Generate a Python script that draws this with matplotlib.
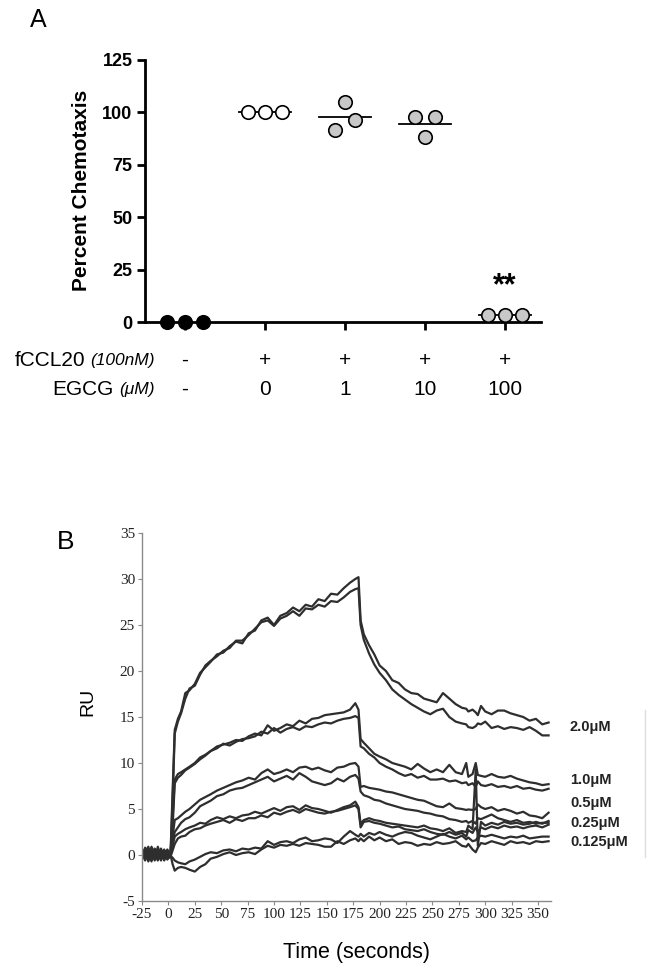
import numpy as np
import matplotlib
matplotlib.use("Agg")
import matplotlib.pyplot as plt
from matplotlib.lines import Line2D

# ---------------- panel A data ----------------
GROUPS = ["ctrl", "0", "1", "10", "100"]
FCCL20_ROW = ["-", "+", "+", "+", "+"]
EGCG_ROW = ["-", "0", "1", "10", "100"]
CHEMO_VALUES = [
    [0.0, 0.0, 0.0],
    [100.0, 100.0, 100.0],
    [91.7, 105.2, 96.5],
    [97.8, 88.3, 97.8],
    [3.2, 3.2, 3.2],
]
CHEMO_OFFSETS = [
    [-0.225, 0.0, 0.225],
    [-0.21, 0.0, 0.21],
    [-0.125, 0.0, 0.125],
    [-0.125, 0.0, 0.125],
    [-0.21, 0.0, 0.21],
]
FILL = ["black", "white", "#c8c8c8", "#c8c8c8", "#c8c8c8"]

# ---------------- panel B data ----------------
T_BASE = [-25, -22, -19, -16, -13, -10, -7, -4, -1, 2]
T_ASSOC = [4, 6, 9, 12, 16, 20, 25, 30, 35, 40, 46, 52, 58, 64, 70, 76, 82, 88,
           94, 100, 106, 112, 118, 124, 130, 136, 142, 148, 154, 160, 166, 172,
           177, 180]
T_DISS = [182, 185, 190, 195, 200, 206, 212, 218, 224, 230, 236, 242, 248, 254,
          260, 266, 272, 278, 282, 284, 288, 291, 293, 296, 300, 306, 312, 318,
          324, 330, 336, 342, 348, 354, 360]

CONC_LABELS = ["2.0\u03bcM", "1.0\u03bcM", "0.5\u03bcM", "0.25\u03bcM", "0.125\u03bcM"]

BASE = [
    [0.0, 0.8, -0.4, 0.6, -0.6, 0.9, -0.3, 0.4, -0.2, 0.1],
    [-0.5, 0.3, 0.9, -0.5, 0.5, -0.2, 0.7, -0.6, 0.3, -0.1],
    [0.3, -0.6, 0.5, 0.2, -0.4, 0.6, -0.5, 0.2, 0.5, 0.0],
    [-0.3, 0.5, -0.2, 0.9, 0.1, -0.6, 0.4, -0.3, 0.0, 0.2],
    [0.6, -0.2, 0.2, -0.7, 0.7, 0.0, -0.4, 0.6, -0.4, -0.2],
    [-0.1, 0.4, -0.7, 0.3, -0.2, 0.5, 0.2, -0.5, 0.4, 0.0],
    [0.2, -0.4, 0.4, -0.3, 0.6, -0.5, 0.6, 0.1, -0.3, 0.1],
    [-0.4, 0.6, 0.0, 0.5, -0.5, 0.3, -0.6, 0.5, 0.2, -0.2],
    [0.4, -0.1, -0.5, 0.1, 0.4, -0.3, 0.3, -0.2, 0.6, -0.1],
    [-0.2, 0.2, 0.6, -0.4, -0.1, 0.7, -0.2, 0.3, -0.5, 0.0],
]

ASSOC = [
    # 2.0 uM
    [7, 13.6, 14.8, 15.6, 17.6, 17.9, 18.6, 19.8, 20.4, 21.0, 21.8, 22.0, 22.7,
     23.2, 23.0, 24.1, 24.4, 25.5, 25.8, 25.0, 26.0, 26.3, 26.9, 26.5, 27.2,
     27.0, 27.8, 27.6, 28.4, 28.3, 29.0, 29.6, 30.0, 30.2],
    [6, 13.2, 14.5, 15.4, 17.0, 18.1, 18.4, 19.6, 20.6, 21.1, 21.6, 22.2, 22.5,
     23.3, 23.3, 23.9, 24.6, 25.3, 25.5, 24.9, 25.7, 26.0, 26.5, 26.0, 26.8,
     26.7, 27.2, 27.0, 27.6, 27.5, 28.0, 28.6, 28.9, 29.0],
    # 1.0 uM
    [4, 8.2, 8.8, 9.0, 9.3, 9.6, 10.0, 10.6, 10.9, 11.3, 11.8, 12.0, 12.2, 12.5,
     12.4, 12.9, 13.2, 13.0, 14.1, 13.5, 13.8, 14.2, 14.0, 14.6, 14.3, 14.8,
     14.9, 15.2, 15.3, 15.4, 15.5, 15.8, 16.5, 15.8],
    [3, 7.8, 8.4, 8.7, 9.2, 9.5, 9.9, 10.4, 10.8, 11.3, 11.6, 12.1, 11.9, 12.3,
     12.6, 12.7, 12.9, 13.4, 13.2, 13.8, 13.3, 13.7, 13.9, 13.6, 14.0, 13.9,
     14.2, 14.4, 14.3, 14.6, 14.8, 14.9, 15.1, 14.9],
    # 0.5 uM
    [2, 3.8, 4.0, 4.3, 4.7, 5.0, 5.5, 6.0, 6.3, 6.6, 7.0, 7.3, 7.6, 7.9, 8.1,
     8.4, 8.2, 8.9, 9.3, 8.8, 9.0, 9.3, 9.0, 9.5, 9.6, 9.3, 9.5, 9.2, 9.0, 9.5,
     9.6, 9.9, 10.0, 9.6],
    [1.5, 2.5, 3.0, 3.5, 3.9, 4.1, 4.6, 5.3, 5.6, 5.9, 6.4, 6.6, 7.0, 7.2, 7.3,
     7.6, 7.9, 8.2, 8.5, 8.0, 8.3, 8.6, 8.2, 8.9, 8.5, 8.0, 7.8, 7.6, 7.8, 8.3,
     8.0, 8.5, 8.7, 8.3],
    # 0.25 uM
    [1.0, 2.0, 2.3, 2.5, 2.8, 3.0, 3.2, 3.5, 3.4, 3.8, 4.1, 3.9, 4.2, 4.0, 4.3,
     4.4, 4.7, 4.5, 4.8, 5.1, 4.8, 5.2, 5.3, 4.9, 5.4, 5.1, 5.0, 4.8, 4.6, 4.9,
     5.2, 5.4, 5.8, 5.2],
    [0.5, 1.2, 1.8, 2.0, 2.1, 2.5, 2.8, 2.9, 3.2, 3.4, 3.6, 3.8, 3.5, 3.9, 3.7,
     4.0, 4.0, 4.3, 4.1, 4.6, 4.4, 4.7, 4.9, 4.6, 5.0, 4.8, 4.6, 4.5, 4.7, 4.8,
     5.0, 5.2, 5.4, 5.0],
    # 0.125 uM
    [-0.3, -0.6, -0.8, -0.9, -1.0, -0.7, -0.5, -0.2, 0.1, 0.3, 0.2, 0.5, 0.6,
     0.4, 0.7, 0.6, 0.8, 0.7, 1.5, 1.1, 1.4, 1.5, 1.3, 1.7, 1.9, 1.5, 1.6, 1.8,
     1.7, 1.3, 2.0, 2.6, 2.2, 2.0],
    [-1.0, -1.7, -1.4, -1.3, -1.4, -1.6, -1.8, -1.3, -1.0, -0.4, -0.2, 0.1, 0.3,
     0.0, 0.2, 0.3, 0.1, 0.6, 1.0, 0.8, 1.1, 1.0, 1.2, 1.0, 1.3, 1.2, 1.1, 0.9,
     0.9, 1.5, 1.2, 1.6, 1.8, 1.5],
]

DISS = [
    [25.5, 24.0, 22.8, 21.8, 20.6, 20.0, 19.0, 18.7, 18.0, 17.6, 17.5, 17.0,
     16.8, 16.6, 17.6, 17.0, 16.4, 16.0, 15.9, 15.6, 15.8, 15.5, 15.2, 16.2,
     15.6, 15.3, 15.7, 15.7, 15.4, 15.2, 15.0, 14.6, 14.8, 14.2, 14.4],
    [25.0, 23.4, 21.9, 20.7, 19.8, 19.0, 18.0, 17.4, 16.9, 16.4, 16.0, 15.6,
     15.3, 15.7, 15.9, 15.0, 14.5, 14.3, 14.2, 13.9, 13.8, 14.0, 14.3, 14.2,
     14.5, 13.8, 14.0, 13.7, 13.9, 13.8, 13.6, 13.9, 13.5, 13.0, 13.0],
    [12.6, 12.2, 11.6, 11.0, 10.7, 10.4, 10.0, 9.8, 9.6, 9.3, 9.9, 9.4, 9.0,
     9.3, 9.0, 9.8, 9.0, 8.8, 10.0, 8.5, 8.8, 10.0, 8.7, 8.6, 8.5, 8.8, 8.5,
     8.4, 8.6, 8.3, 8.1, 7.9, 7.8, 7.6, 7.7],
    [11.8, 11.6, 11.0, 10.6, 10.0, 9.6, 9.3, 8.9, 8.6, 8.8, 8.4, 8.6, 8.2, 8.2,
     8.3, 8.0, 8.1, 7.8, 7.9, 7.6, 7.8, 7.4, 8.0, 7.6, 7.5, 7.7, 7.4, 7.5, 7.3,
     7.5, 7.2, 7.3, 7.1, 7.0, 7.2],
    [7.4, 7.5, 7.3, 7.2, 7.1, 6.9, 6.8, 6.6, 6.4, 6.2, 6.0, 5.9, 5.6, 5.3, 5.2,
     5.6, 5.1, 5.0, 4.9, 4.95, 4.9, 5.0, 5.5, 5.2, 5.0, 5.2, 4.8, 5.0, 4.8, 4.5,
     4.7, 4.3, 4.2, 4.0, 4.6],
    [6.9, 6.5, 6.3, 6.0, 5.9, 5.6, 5.4, 5.2, 5.0, 4.9, 4.8, 4.6, 4.5, 4.3, 4.2,
     3.9, 3.8, 3.6, 3.7, 3.5, 3.7, 3.4, 4.0, 3.9, 4.1, 4.4, 4.0, 3.8, 3.6, 3.8,
     3.5, 3.6, 3.4, 3.5, 3.5],
    [3.4, 3.8, 4.0, 3.8, 3.7, 3.5, 3.4, 3.3, 3.2, 3.1, 3.0, 3.2, 2.9, 2.8, 2.6,
     2.9, 2.4, 2.6, 2.5, 3.2, 2.8, 9.3, 1.0, 3.6, 3.2, 3.5, 3.3, 3.6, 3.4, 3.5,
     3.3, 3.4, 3.6, 3.4, 3.7],
    [3.0, 3.6, 3.7, 3.5, 3.4, 3.2, 3.0, 3.1, 2.8, 2.7, 2.6, 2.8, 2.5, 2.3, 2.2,
     2.5, 2.2, 2.4, 2.0, 2.7, 2.4, 3.0, 2.5, 3.0, 2.8, 3.1, 2.9, 3.2, 3.0, 3.1,
     2.9, 3.1, 3.2, 3.0, 3.3],
    [2.3, 2.0, 2.4, 2.2, 2.5, 2.2, 2.0, 2.3, 2.5, 2.4, 2.1, 1.9, 1.7, 2.0, 2.3,
     2.0, 1.8, 2.1, 1.7, 1.9, 1.5, 1.6, 1.9, 2.1, 2.0, 2.2, 2.0, 1.8, 2.0, 1.9,
     2.1, 1.8, 1.9, 2.0, 2.0],
    [1.8, 1.5, 2.0, 1.6, 1.9, 1.5, 1.7, 1.2, 1.4, 1.3, 1.0, 1.2, 1.1, 1.4, 1.2,
     1.3, 1.5, 1.0, 0.9, 1.2, 0.6, 0.3, 0.8, 1.3, 1.2, 1.5, 1.3, 1.1, 1.5, 1.3,
     1.4, 1.2, 1.5, 1.4, 1.5],
]

LABEL_Y_PX = [727, 780, 803, 823, 842]

W, H = 654, 971
plt.rcParams["font.family"] = ["Liberation Sans", "DejaVu Sans"]
plt.rcParams["axes.unicode_minus"] = False
fig = plt.figure(figsize=(W / 100, H / 100), dpi=100)


def fx(px):
    return px / W


def fy(px):
    return 1 - px / H


# ======================= Panel A =======================
axA = fig.add_axes([fx(145), fy(322), 396 / W, 262 / H])
for i, vals in enumerate(CHEMO_VALUES):
    xs = [i + o for o in CHEMO_OFFSETS[i]]
    axA.plot(xs, vals, "o", ms=9.7, mfc=FILL[i], mec="black", mew=1.2,
             clip_on=False, zorder=4)
    if i > 0:
        m = np.mean(vals)
        axA.plot([i - 0.33, i + 0.33], [m, m], color="black", lw=1.3, zorder=3)

axA.set_xlim(-0.5, 4.45)
axA.set_ylim(0, 125)
axA.set_yticks([0, 25, 50, 75, 100, 125])
axA.set_xticks(range(len(GROUPS)))
axA.set_xticklabels([])
for s in ["top", "right"]:
    axA.spines[s].set_visible(False)
for s in ["left", "bottom"]:
    axA.spines[s].set_linewidth(2)
axA.tick_params(axis="y", direction="out", length=6, width=2, labelsize=13, pad=3)
axA.tick_params(axis="x", direction="out", length=6, width=2)
for lb in axA.get_yticklabels():
    lb.set_fontweight("bold")

axA.text(4, 17.0, "**", ha="center", va="center", fontsize=22, fontweight="bold")

fig.text(fx(82), fy(190), "Percent Chemotaxis", rotation=90, ha="center",
         va="center", fontsize=15, fontweight="bold")
fig.text(fx(38), fy(20), "A", ha="center", va="center", fontsize=18)

# row labels under the axis
trans = matplotlib.transforms.blended_transform_factory(axA.transData, fig.transFigure)
for row_y, row_vals in [(360, FCCL20_ROW), (389, EGCG_ROW)]:
    for i, v in enumerate(row_vals):
        axA.text(i, fy(row_y), v, transform=trans, ha="center", va="center",
                 fontsize=15, clip_on=False)

for row_y, word, unit in [(360, "fCCL20", "(100nM)"), (389, "EGCG", "(\u03bcM)")]:
    it = fig.text(fx(155), fy(row_y), unit, ha="right", va="center",
                  fontsize=12.5, style="italic")
    axA.annotate(word, xy=(0, 0.5), xycoords=it, xytext=(-4, 0),
                 textcoords="offset points", ha="right", va="center",
                 fontsize=15, annotation_clip=False)

# ======================= Panel B =======================
axB = fig.add_axes([fx(142), fy(901), 408.7 / W, 368 / H])
for k in range(len(ASSOC)):
    assert len(ASSOC[k]) == len(T_ASSOC) and len(DISS[k]) == len(T_DISS)
    t = T_BASE + T_ASSOC + T_DISS
    v = BASE[k] + ASSOC[k] + DISS[k]
    axB.plot(t, v, color="#2e2e2e", lw=1.6)

axB.set_xlim(-25, 362)
axB.set_ylim(-5, 35)
axB.set_xticks(range(-25, 351, 25))
axB.set_yticks(range(-5, 36, 5))
for s in ["top", "right"]:
    axB.spines[s].set_visible(False)
for s in ["left", "bottom"]:
    axB.spines[s].set_color("#8a8a8a")
    axB.spines[s].set_linewidth(1.0)
axB.tick_params(direction="out", length=3, width=0.8, color="#8a8a8a",
                labelsize=11, pad=2)
for lb in axB.get_xticklabels() + axB.get_yticklabels():
    lb.set_fontfamily("Liberation Serif")
    lb.set_color("#222222")

for lab, ypx in zip(CONC_LABELS, LABEL_Y_PX):
    fig.text(fx(570), fy(ypx), lab, ha="left", va="center", fontsize=10.5,
             fontweight="bold", color="#222222")

fig.add_artist(Line2D([fx(645), fx(645)], [fy(710), fy(857)], color="#dddddd", lw=1))

fig.text(fx(88), fy(702), "RU", rotation=90, ha="center", va="center", fontsize=14)
fig.text(fx(357), fy(952), "Time (seconds)", ha="center", va="center", fontsize=15.5)
fig.text(fx(66), fy(542), "B", ha="center", va="center", fontsize=19)

fig.savefig("out.png", dpi=100)
